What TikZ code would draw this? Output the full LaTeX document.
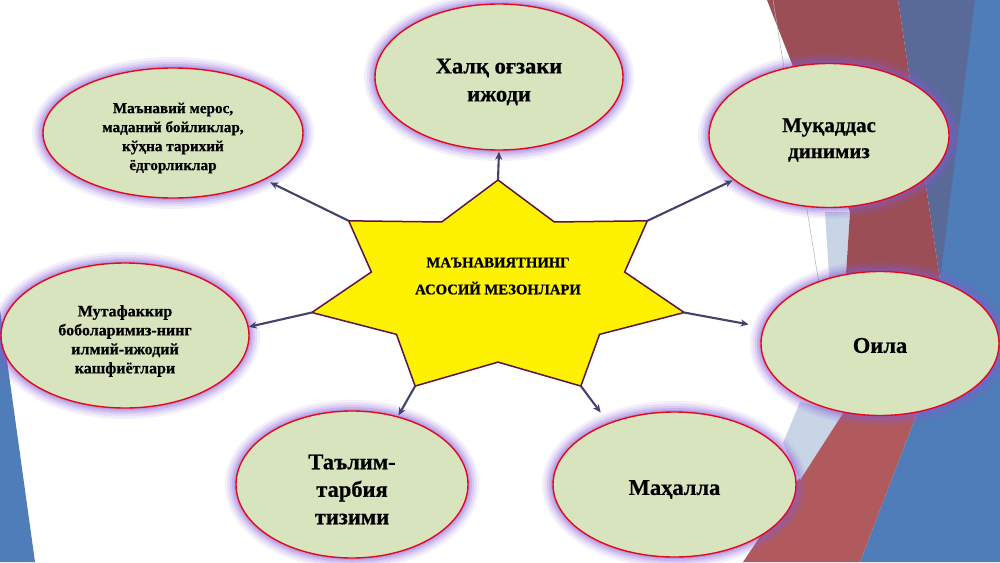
\documentclass[tikz,border=0pt]{standalone}
\usepackage{fontspec}
\setmainfont{Liberation Serif}[BoldFeatures={FakeBold=0.6}]
\usetikzlibrary{shapes.geometric,arrows.meta,calc}
\definecolor{ellfill}{RGB}{215,228,189}
\definecolor{ellline}{RGB}{228,10,30}
\definecolor{glow}{RGB}{135,90,215}
\definecolor{arrowc}{RGB}{66,66,108}
\definecolor{starline}{RGB}{90,20,70}
\definecolor{maroonA}{RGB}{155,78,85}
\definecolor{redB}{RGB}{176,90,94}
\definecolor{blueA}{RGB}{79,125,185}
\definecolor{bluegray}{RGB}{90,106,152}
\definecolor{lightblue}{RGB}{200,213,231}
\begin{document}
\begin{tikzpicture}[x=1pt,y=-1pt,
  bubble/.style={ellipse, draw=ellline, line width=1.4pt, fill=ellfill, inner sep=0pt,
    preaction={draw=glow, draw opacity=0.09, line width=22pt},
    preaction={draw=glow, draw opacity=0.12, line width=17pt},
    preaction={draw=glow, draw opacity=0.15, line width=12pt},
    preaction={draw=glow, draw opacity=0.18, line width=8pt},
    preaction={draw=glow, draw opacity=0.25, line width=4pt}},
  btext/.style={align=center, inner sep=0pt},
  conn/.style={draw=arrowc, line width=2.1pt, -{Stealth[length=8pt,width=7pt]}}
]
\useasboundingbox (0,0) rectangle (1000,562);
\fill[white] (0,0) rectangle (1000,562);
% background decoration
\fill[blueA] (0,310) -- (35,562) -- (0,562) -- cycle;
\fill[blueA] (965,0) -- (1000,0) -- (1000,562) -- (860,562) -- (917,413) -- (940,280) -- cycle;
\fill[bluegray] (898,0) -- (975,0) -- (940,280) -- cycle;
\fill[lightblue] (825,212) -- (850,212) -- (845,290) -- (830,290) -- cycle;
\fill[maroonA] (767,0) -- (898,0) -- (940,280) -- (945,340) -- (917,413) -- (843,413) -- (845,290) -- (850,212) -- cycle;
\fill[redB] (843,413) -- (917,413) -- (860,562) -- (743,562) -- cycle;
\fill[lightblue] (783,443) -- (800,402) -- (843,413) -- (800,480) -- cycle;
\draw[gray!60, line width=0.5pt] (773,0) -- (820,290);
% star
\draw[fill=yellow, draw=starline, line width=1.5pt]
  (498,180) \foreach \k in {1,...,13} { -- ({498+191*(mod(\k,2)==0 ? 1 : 0.68)*cos(90-\k*180/7)},{288.4-108.4*(mod(\k,2)==0 ? 1 : 0.68)*sin(90-\k*180/7)}) } -- cycle;
\foreach \k in {0,...,6}
  \coordinate (s\k) at ({498+191*cos(90-\k*360/7)},{288.4-108.4*sin(90-\k*360/7)});
\node[btext, font=\bfseries\fontsize{14.7}{27}\selectfont] (star) at (498,276) {МАЪНАВИЯТНИНГ\\АСОСИЙ МЕЗОНЛАРИ};
% ellipses
\node[bubble, minimum width=248pt, minimum height=146pt] (e1) at (499,77) {};
\node[bubble, minimum width=260pt, minimum height=130pt] (e2) at (173,133) {};
\node[bubble, minimum width=240pt, minimum height=144pt] (e3) at (829,135.5) {};
\node[bubble, minimum width=238pt, minimum height=144pt] (e4) at (880,343.5) {};
\node[bubble, minimum width=243pt, minimum height=145pt] (e5) at (674.5,484.5) {};
\node[bubble, minimum width=232pt, minimum height=147pt] (e6) at (352,484.5) {};
\node[bubble, minimum width=248pt, minimum height=145pt] (e7) at (125,335.5) {};
% texts
\node[btext, font=\bfseries\fontsize{22.5}{28}\selectfont] (t1) at ($(e1)+(0,5)$) {Халқ оғзаки\\ижоди};
\node[btext, font=\bfseries\fontsize{15.2}{19}\selectfont] (t2) at ($(e2)+(0,5)$) {Маънавий мерос,\\маданий бойликлар,\\кўҳна тарихий\\ёдгорликлар};
\node[btext, font=\bfseries\fontsize{21}{26}\selectfont] (t3) at ($(e3)+(0,4.5)$) {Муқаддас\\динимиз};
\node[btext, font=\bfseries\fontsize{22.5}{27}\selectfont] (t4) at ($(e4)+(0,2)$) {Оила};
\node[btext, font=\bfseries\fontsize{22.5}{27}\selectfont] (t5) at ($(e5)+(0,5)$) {Маҳалла};
\node[btext, font=\bfseries\fontsize{22.5}{27.5}\selectfont] (t6) at ($(e6)+(0,5)$) {Таълим-\\тарбия\\тизими};
\node[btext, font=\bfseries\fontsize{16}{19}\selectfont] (t7) at ($(e7)+(0,5.5)$) {Мутафаккир\\боболаримиз-нинг\\илмий-ижодий\\кашфиётлари};
% connectors
\draw[conn, shorten >=1pt] (s0) -- (e1.south);
\draw[conn, shorten >=6pt] (s6) -- (e2.333);
\draw[conn, shorten >=1pt] (s1) -- (e3.205);
\draw[conn, shorten >=15pt] (s2) -- (e4.172);
\draw[conn, shorten >=13pt] (s3) -- (e5.137);
\draw[conn, shorten >=1pt] (s4) -- (e6.56);
\draw[conn] (s5) -- (e7.4);
\end{tikzpicture}
\end{document}
